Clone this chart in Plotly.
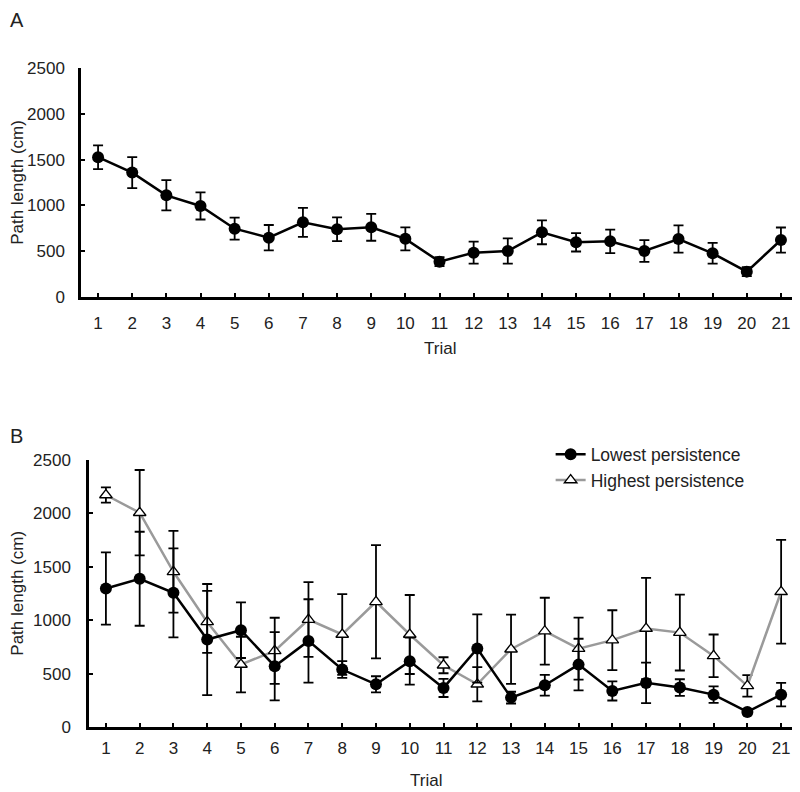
import plotly.graph_objects as go

trials = list(range(1, 22))

# panel A: all animals
a_mean = [1526, 1358, 1110, 994, 746, 648, 815, 739, 761, 635, 386,
          484, 502, 706, 597, 608, 502, 633, 477, 277, 622]
a_err = [130, 170, 165, 148, 120, 138, 158, 130, 147, 125, 50,
         120, 138, 130, 100, 128, 118, 148, 113, 50, 137]

# panel B: lowest vs highest persistence
low_mean = [1297, 1388, 1256, 819, 906, 569, 806, 538, 400, 616, 366,
            735, 275, 391, 584, 338, 413, 369, 303, 141, 303]
low_err = [338, 440, 417, 520, 260, 320, 390, 78, 75, 220, 85,
           320, 55, 97, 242, 90, 190, 78, 78, 25, 110]
high_mean = [2172, 2006, 1453, 984, 585, 713, 1006, 866, 1172, 866, 578,
             400, 728, 897, 734, 813, 922, 884, 666, 385, 1266]
high_err = [72, 400, 383, 290, 260, 310, 350, 378, 530, 370, 75,
            160, 325, 313, 290, 280, 475, 355, 200, 100, 485]

FONT = "Liberation Sans, Arial, sans-serif"
GRAY = "#9a9a9a"
TXT = "#222"

fig = go.Figure()

err_style = dict(type="data", color="black", thickness=1.8, width=5)

fig.add_trace(go.Scatter(
    x=trials, y=a_mean, mode="lines+markers", showlegend=False,
    line=dict(color="black", width=2.5),
    marker=dict(symbol="circle", size=12, color="black"),
    error_y=dict(array=a_err, **err_style),
    xaxis="x", yaxis="y",
))

fig.add_trace(go.Scatter(
    x=trials, y=high_mean, mode="lines+markers", name="Highest persistence",
    line=dict(color=GRAY, width=2.5),
    marker=dict(symbol="triangle-up", size=11, color="white",
                line=dict(color="black", width=1.3)),
    error_y=dict(array=high_err, **err_style),
    xaxis="x2", yaxis="y2",
))

fig.add_trace(go.Scatter(
    x=trials, y=low_mean, mode="lines+markers", name="Lowest persistence",
    line=dict(color="black", width=2.5),
    marker=dict(symbol="circle", size=12, color="black"),
    error_y=dict(array=low_err, **err_style),
    xaxis="x2", yaxis="y2",
))

axis_common = dict(
    showline=True, linecolor="black", linewidth=2.5, mirror=False,
    ticks="inside", ticklen=4, tickwidth=2, tickcolor="black",
    showgrid=False, zeroline=False, automargin=False,
    tickfont=dict(family=FONT, size=17, color=TXT),
)

xcommon = dict(axis_common, range=[0.5, 21.5], tickvals=trials,
               ticktext=[str(t) for t in trials])
ycommon = dict(axis_common, range=[0, 2500], tickvals=[0, 500, 1000, 1500, 2000, 2500])


def label(text, x, y, size=17, angle=0, anchor="center"):
    return dict(text=text, xref="paper", yref="paper", x=x, y=y,
                xanchor=anchor, yanchor="middle", showarrow=False,
                textangle=angle, font=dict(family=FONT, size=size, color=TXT))


# the page body adds an 8px margin, so the figure is 8px smaller each way
fig.update_layout(
    width=792, height=784,
    margin=dict(l=73, r=2, t=60, b=65),
    paper_bgcolor="white", plot_bgcolor="white",
    font=dict(family=FONT, size=17, color=TXT),
    xaxis=dict(xcommon, domain=[0, 1], anchor="y", ticklabelstandoff=9),
    yaxis=dict(ycommon, domain=[0.6525, 1], anchor="x", ticklabelstandoff=10),
    xaxis2=dict(xcommon, domain=[0.0112, 1], anchor="y2", ticklabelstandoff=4),
    yaxis2=dict(ycommon, domain=[0, 0.4052], anchor="x2", ticklabelstandoff=12),
    legend=dict(x=0.655, y=0.441, xanchor="left", yanchor="top",
                traceorder="reversed", bgcolor="rgba(0,0,0,0)",
                font=dict(family=FONT, size=17.5, color=TXT)),
    annotations=[
        label("A", -0.102, 1.073, size=20, anchor="left"),
        label("B", -0.102, 0.4416, size=20, anchor="left"),
        label("Path length (cm)", -0.089, 0.826, angle=-90),
        label("Path length (cm)", -0.089, 0.2026, angle=-90),
        label("Trial", 0.5007, 0.575),
        label("Trial", 0.481, -0.081),
    ],
)

fig.write_html("out.html")
